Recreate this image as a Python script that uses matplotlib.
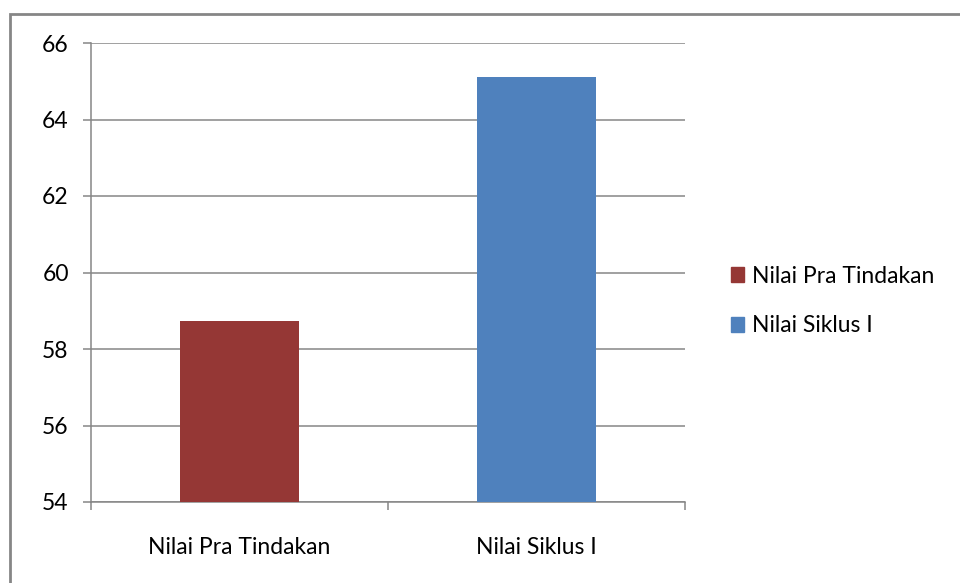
import matplotlib
matplotlib.use("Agg")
import matplotlib.pyplot as plt
from matplotlib.patches import Rectangle, Patch

# --- data ---
categories = ["Nilai Pra Tindakan", "Nilai Siklus I"]
values = [58.72, 65.12]
colors = ["#953735", "#4f81bd"]
y_ticks = [54, 56, 58, 60, 62, 64, 66]

plt.rcParams["font.family"] = ["Lato", "DejaVu Sans"]
grey = "#868686"
fs = 16.5

fig = plt.figure(figsize=(9.6, 5.83), dpi=100)
ax = fig.add_axes([91 / 960, 1 - 502 / 583, 594 / 960, 459 / 583])

x = range(len(categories))
ax.bar(x, values, width=0.4, color=colors, zorder=3)

ax.set_ylim(54, 66)
ax.set_yticks(y_ticks)
ax.set_xlim(-0.5, 1.5)
ax.set_xticks(list(x))
ax.set_xticklabels(categories)
ax.set_xticks([-0.5, 0.5, 1.5], minor=True)

ax.grid(axis="y", color=grey, linewidth=1.1, zorder=0)
for side in ["top", "right"]:
    ax.spines[side].set_visible(False)
for side in ["left", "bottom"]:
    ax.spines[side].set_color(grey)
    ax.spines[side].set_linewidth(1.1)

ax.tick_params(axis="y", length=6, width=1.1, color=grey, labelsize=fs, pad=10)
ax.tick_params(axis="x", which="major", length=0, labelsize=fs, pad=25)
ax.tick_params(axis="x", which="minor", length=6, width=1.1, color=grey)

handles = [Patch(color=c, label=l) for c, l in zip(colors, categories)]
fig.legend(handles=handles, loc="center left",
           bbox_to_anchor=(710 / 960, 1 - 301 / 583), frameon=False,
           fontsize=fs, handlelength=0.6, handleheight=0.6,
           handletextpad=0.35, labelspacing=1.25)

# outer chart frame (runs off the right and bottom edges)
fig.patches.append(Rectangle((10 / 960, -0.1), 1.2, 1 - 14 / 583 + 0.1,
                             transform=fig.transFigure, fill=False,
                             edgecolor=grey, linewidth=2))

fig.savefig("out.png", dpi=100)
